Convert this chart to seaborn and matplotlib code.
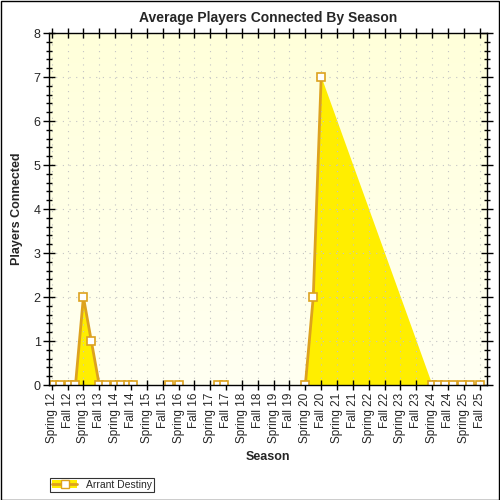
import matplotlib
matplotlib.use("Agg")
import matplotlib.pyplot as plt
import seaborn as sns
import numpy as np
import pandas as pd
from matplotlib.lines import Line2D
from matplotlib.patches import Patch, Rectangle
from matplotlib.colors import LinearSegmentedColormap

season_labels = ["Spring 12", "Fall 12", "Spring 13", "Fall 13", "Spring 14", "Fall 14",
                 "Spring 15", "Fall 15", "Spring 16", "Fall 16", "Spring 17", "Fall 17",
                 "Spring 18", "Fall 18", "Spring 19", "Fall 19", "Spring 20", "Fall 20",
                 "Spring 21", "Fall 21", "Spring 22", "Fall 22", "Spring 23", "Fall 23",
                 "Spring 24", "Fall 24", "Spring 25", "Fall 25"]

# session positions on the season scale (season index + fraction of season elapsed)
session_pos = [0.15, 0.5, 1.1, 1.5, 2.0, 2.5, 3.0, 3.4, 4.0, 4.4, 4.8, 5.1,
               7.4, 8.0, 10.5, 10.9, 16.0, 16.5, 17.0, 24.0, 24.4, 24.8, 25.3,
               25.9, 26.4, 27.0]
avg_players = [0, 0, 0, 0, 2, 1, 0, 0, 0, 0, 0, 0,
               0, 0, 0, 0, 0, 2, 7, 0, 0, 0, 0,
               0, 0, 0]
# contiguous runs of recorded data (line breaks between runs)
run_id = [0, 0, 0, 0, 0, 0, 0, 0, 0, 0, 0, 0,
          1, 1, 2, 2, 3, 3, 3, 4, 4, 4, 4,
          4, 4, 4]
series_name = "Arrant Destiny"

df = pd.DataFrame({"pos": session_pos, "players": avg_players, "run": run_id})

sns.set_theme(style="white")
plt.rcParams['font.family'] = ['Liberation Sans', 'DejaVu Sans']

fig = plt.figure(figsize=(5, 5), dpi=100)
fig.patch.set_facecolor("white")
ax = fig.add_axes([0.098, 0.23, 0.876, 0.704])

grad = np.linspace(0, 1, 256).reshape(-1, 1)
cmap = LinearSegmentedColormap.from_list("bg", ["#FFFFF2", "#FFFFDA"])
ax.imshow(grad, aspect="auto", cmap=cmap, origin="lower",
          extent=[-0.17, 27.46, 0, 8], zorder=0)

line_col = "#DDA21E"
ax.fill_between(df["pos"], df["players"], 0, color="#FFEE00", zorder=2, linewidth=0)
sns.lineplot(data=df, x="pos", y="players", units="run", estimator=None, ax=ax,
             color=line_col, linewidth=2, marker="s", markersize=6,
             markerfacecolor="white", markeredgecolor=line_col,
             markeredgewidth=1.2, zorder=3, legend=False)

ax.set_xlim(-0.17, 27.46)
ax.set_ylim(0, 8)
ax.set_xticks(range(len(season_labels)))
ax.set_xticklabels(season_labels, rotation=90, fontsize=8.5)
ax.set_yticks(range(0, 9))
ax.set_yticklabels([str(i) for i in range(0, 9)], fontsize=9)
ax.set_yticks(np.arange(0, 8.01, 0.2), minor=True)

ax.grid(True, which="major", linestyle=(0, (1, 5)), color="#C4C4C4", linewidth=0.8)
ax.set_axisbelow(False)
for gl in ax.get_xgridlines() + ax.get_ygridlines():
    gl.set_zorder(1)

ax.tick_params(axis="x", which="major", direction="inout", length=7, width=1,
               color="black", top=True, bottom=True, pad=2, labelsize=8.5)
ax.tick_params(axis="y", which="major", direction="inout", length=8, width=1,
               color="black", left=True, right=True, pad=2)
ax.tick_params(axis="y", which="minor", direction="inout", length=4, width=1,
               color="black", left=True, right=True)

for s in ax.spines.values():
    s.set_color("black")
    s.set_linewidth(1)
    s.set_zorder(4)

ax.set_xlabel("Season", fontsize=9, fontweight="bold", labelpad=6)
ax.set_ylabel("Players Connected", fontsize=9, fontweight="bold", labelpad=8)
ax.set_title("Average Players Connected By Season", fontsize=10, fontweight="bold", pad=8)

handle = (Patch(facecolor="#FFEE00", edgecolor="none"),
          Line2D([], [], color=line_col, linewidth=2, marker="s", markersize=6,
                 markerfacecolor="white", markeredgecolor=line_col))
leg = fig.legend([handle], [series_name], loc="lower left",
                 bbox_to_anchor=(0.09, 0.006), fontsize=7.5, frameon=True,
                 fancybox=False, edgecolor="black", borderpad=0.2,
                 handlelength=2.4, handletextpad=0.8)
leg.get_frame().set_linewidth(0.8)

fig.add_artist(Rectangle((0.001, 0.001), 0.997, 0.997, transform=fig.transFigure,
                         fill=False, edgecolor="black", linewidth=1))

fig.savefig("out.png", dpi=100)
